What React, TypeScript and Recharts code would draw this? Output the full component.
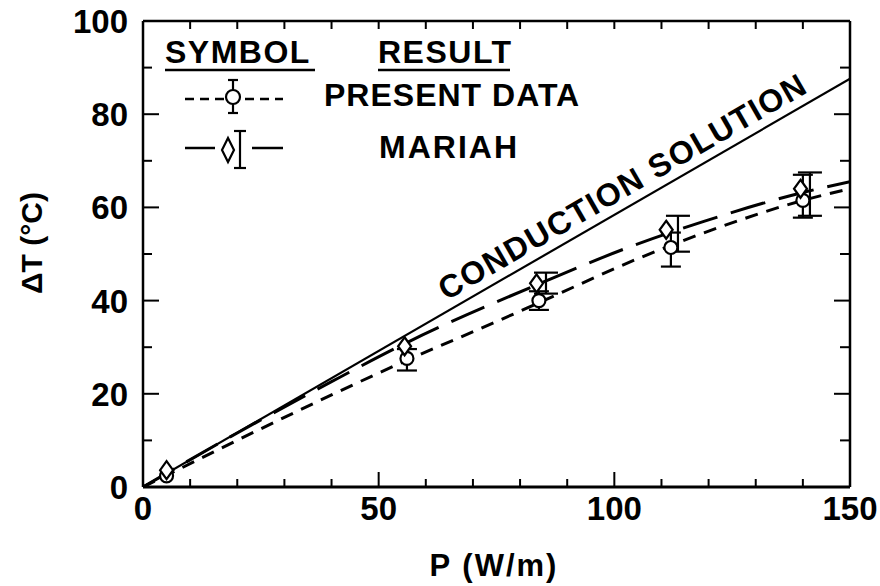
import { ComposedChart, Line, Scatter, XAxis, YAxis, ErrorBar } from 'recharts';

const xTicks = [0, 10, 20, 30, 40, 50, 60, 70, 80, 90, 100, 110, 120, 130, 140, 150];
const yTicks = [0, 10, 20, 30, 40, 50, 60, 70, 80, 90, 100];
const xLabelled = [0, 50, 100, 150];
const yLabelled = [0, 20, 40, 60, 80, 100];

// straight conduction line
const conductionX = [0, 150];
const conductionY = [0, 87.6];

// fitted curves
const presentCurveX = [0, 5, 24, 56, 75, 85, 105, 123, 140, 150];
const presentCurveY = [0, 2.5, 12, 27.2, 35.5, 40, 49, 56, 61.5, 64];
const mariahCurveX = [0, 20, 40, 56, 85, 104, 119, 140, 150];
const mariahCurveY = [0, 11.6, 22.6, 31, 44, 51.8, 57, 63.2, 65.5];

// measured points
const presentX = [5, 56, 84, 112, 140];
const presentY = [2.4, 27.6, 40, 51.4, 61.5];
const mariahX = [5, 55.5, 83.5, 111, 139.5];
const mariahY = [3.6, 30.2, 43.7, 55.2, 64];

// error bars
const presentBarX = [56, 84, 112, 140];
const presentBarY = [27.6, 40, 51.4, 61.5];
const presentBarLow = [2.6, 2, 4.1, 3.7];
const presentBarHigh = [2, 2, 3.2, 5.5];
const mariahBarX = [85.5, 113.5, 141.5];
const mariahBarY = [43.7, 55.2, 64];
const mariahBarLow = [2.2, 4.7, 5.8];
const mariahBarHigh = [2.3, 3.0, 3.5];

const toPts = (xs: number[], ys: number[]) => xs.map((x, i) => ({ x, y: ys[i] }));

const conduction = toPts(conductionX, conductionY);
const presentCurve = toPts(presentCurveX, presentCurveY);
const mariahCurve = toPts(mariahCurveX, mariahCurveY);
const presentPts = toPts(presentX, presentY);
const mariahPts = toPts(mariahX, mariahY);
const presentBars = presentBarX.map((x, i) => ({ x, y: presentBarY[i], err: [presentBarLow[i], presentBarHigh[i]] }));
const mariahBars = mariahBarX.map((x, i) => ({ x, y: mariahBarY[i], err: [mariahBarLow[i], mariahBarHigh[i]] }));

const FONT = '"Liberation Sans", Arial, Helvetica, sans-serif';
const INK = '#000';

function BottomTick({ x, y, payload }: any) {
  const v = payload.value;
  const major = xLabelled.includes(v);
  return (
    <g>
      {v > 0 && v < 150 && <line x1={x} x2={x} y1={y} y2={y - (major ? 15 : 8)} stroke={INK} strokeWidth={2} />}
      {major && (
        <text x={x} y={y + 33} textAnchor="middle" fontFamily={FONT} fontWeight="bold" fontSize={33} fill={INK}>
          {v}
        </text>
      )}
    </g>
  );
}

function LeftTick({ x, y, payload }: any) {
  const v = payload.value;
  const major = yLabelled.includes(v);
  return (
    <g>
      {v > 0 && v < 100 && <line x1={x} x2={x + (major ? 16 : 9)} y1={y} y2={y} stroke={INK} strokeWidth={2} />}
      {major && (
        <text x={x - 15} y={y + 12} textAnchor="end" fontFamily={FONT} fontWeight="bold" fontSize={33} fill={INK}>
          {v}
        </text>
      )}
    </g>
  );
}

function TopTick({ x, y, payload }: any) {
  const v = payload.value;
  if (v <= 0 || v >= 150) return <g />;
  return <line x1={x} x2={x} y1={y} y2={y + 8} stroke={INK} strokeWidth={2} />;
}

function RightTick({ x, y, payload }: any) {
  const v = payload.value;
  if (v <= 0 || v >= 100) return <g />;
  const major = v % 20 === 0;
  return <line x1={x} x2={x - (major ? 16 : 10)} y1={y} y2={y} stroke={INK} strokeWidth={2} />;
}

const Circle = ({ cx, cy }: any) => (
  <circle cx={cx} cy={cy} r={6.5} fill="#fff" stroke={INK} strokeWidth={2.2} />
);

const Diamond = ({ cx, cy }: any) => (
  <polygon
    points={`${cx},${cy - 9} ${cx + 6.5},${cy} ${cx},${cy + 9} ${cx - 6.5},${cy}`}
    fill="#fff"
    stroke={INK}
    strokeWidth={2.2}
  />
);

const Nothing = () => <g />;

function Overlay() {
  const txt = { fontFamily: FONT, fontWeight: 'bold' as const, fill: INK };
  return (
    <svg width={880} height={586} style={{ position: 'absolute', left: 0, top: 0, pointerEvents: 'none' }}>
      {/* legend headers */}
      <text x={165} y={63} fontSize={32} letterSpacing={1.5} {...txt}>SYMBOL</text>
      <line x1={165} x2={315} y1={70} y2={70} stroke={INK} strokeWidth={2.5} />
      <text x={378} y={63} fontSize={32} letterSpacing={1.5} {...txt}>RESULT</text>
      <line x1={378} x2={510} y1={70} y2={70} stroke={INK} strokeWidth={2.5} />

      {/* present data key */}
      <line x1={185} x2={283} y1={99} y2={99} stroke={INK} strokeWidth={2.5} strokeDasharray="9 6" />
      <line x1={233} x2={233} y1={80} y2={113} stroke={INK} strokeWidth={2.2} />
      <line x1={228} x2={238} y1={80} y2={80} stroke={INK} strokeWidth={2.2} />
      <line x1={228} x2={238} y1={113} y2={113} stroke={INK} strokeWidth={2.2} />
      <circle cx={233} cy={97} r={7} fill="#fff" stroke={INK} strokeWidth={2.2} />
      <text x={324} y={106} fontSize={32} letterSpacing={1} {...txt}>PRESENT DATA</text>

      {/* mariah key */}
      <line x1={185} x2={215} y1={148} y2={148} stroke={INK} strokeWidth={2.5} />
      <line x1={252} x2={283} y1={148} y2={148} stroke={INK} strokeWidth={2.5} />
      <line x1={240} x2={240} y1={131} y2={168} stroke={INK} strokeWidth={2.2} />
      <line x1={234} x2={246} y1={131} y2={131} stroke={INK} strokeWidth={2.2} />
      <line x1={234} x2={246} y1={168} y2={168} stroke={INK} strokeWidth={2.2} />
      <polygon points="228,138 234,150 228,162 222,150" fill="#fff" stroke={INK} strokeWidth={2.2} />
      <text x={379} y={158} fontSize={32} letterSpacing={2} {...txt}>MARIAH</text>

      <text x={628} y={196} fontSize={32} letterSpacing={1.5} textAnchor="middle" transform="rotate(-30 628 196)" {...txt}>
        CONDUCTION SOLUTION
      </text>

      <text x={42} y={243} fontSize={30} textAnchor="middle" transform="rotate(-90 42 243)" {...txt}>
        ΔT (°C)
      </text>
      <text x={494} y={576} fontSize={31} letterSpacing={2} textAnchor="middle" {...txt}>
        P (W/m)
      </text>
    </svg>
  );
}

export default function App() {
  return (
    <div style={{ position: 'absolute', left: 0, top: 0, width: 880, height: 586, background: '#fff' }}>
      <ComposedChart width={880} height={586} margin={{ top: 0, right: 0, bottom: 0, left: 0 }}>
        <XAxis
          xAxisId={0}
          type="number"
          dataKey="x"
          domain={[0, 150]}
          ticks={xTicks}
          interval={0}
          height={99}
          tickSize={0}
          tickMargin={0}
          tickLine={false}
          tick={<BottomTick />}
          axisLine={{ stroke: INK, strokeWidth: 3 }}
          allowDataOverflow
        />
        <XAxis
          xAxisId="top"
          orientation="top"
          type="number"
          dataKey="x"
          domain={[0, 150]}
          ticks={xTicks}
          interval={0}
          height={21}
          tickSize={0}
          tickMargin={0}
          tickLine={false}
          tick={<TopTick />}
          axisLine={{ stroke: INK, strokeWidth: 2.5 }}
          allowDataOverflow
        />
        <YAxis
          yAxisId={0}
          type="number"
          domain={[0, 100]}
          ticks={yTicks}
          interval={0}
          width={143}
          tickSize={0}
          tickMargin={0}
          tickLine={false}
          tick={<LeftTick />}
          axisLine={{ stroke: INK, strokeWidth: 2.5 }}
          allowDataOverflow
        />
        <YAxis
          yAxisId="right"
          orientation="right"
          type="number"
          domain={[0, 100]}
          ticks={yTicks}
          interval={0}
          width={30}
          tickSize={0}
          tickMargin={0}
          tickLine={false}
          tick={<RightTick />}
          axisLine={{ stroke: INK, strokeWidth: 2.5 }}
          allowDataOverflow
        />

        <Line data={conduction} dataKey="y" type="linear" stroke={INK} strokeWidth={2.2} dot={false} isAnimationActive={false} />
        <Line
          data={mariahCurve}
          dataKey="y"
          type="monotone"
          stroke={INK}
          strokeWidth={3}
          strokeDasharray="36 14"
          dot={false}
          isAnimationActive={false}
        />
        <Line
          data={presentCurve}
          dataKey="y"
          type="monotone"
          stroke={INK}
          strokeWidth={3}
          strokeDasharray="13 9"
          dot={false}
          isAnimationActive={false}
        />

        <Scatter data={presentBars} dataKey="y" shape={<Nothing />} isAnimationActive={false}>
          <ErrorBar dataKey="err" direction="y" width={10} stroke={INK} strokeWidth={2.2} isAnimationActive={false} />
        </Scatter>
        <Scatter data={mariahBars} dataKey="y" shape={<Nothing />} isAnimationActive={false}>
          <ErrorBar dataKey="err" direction="y" width={12} stroke={INK} strokeWidth={2.2} isAnimationActive={false} />
        </Scatter>
        <Scatter data={presentPts} dataKey="y" shape={<Circle />} isAnimationActive={false} />
        <Scatter data={mariahPts} dataKey="y" shape={<Diamond />} isAnimationActive={false} />
      </ComposedChart>
      <Overlay />
    </div>
  );
}
